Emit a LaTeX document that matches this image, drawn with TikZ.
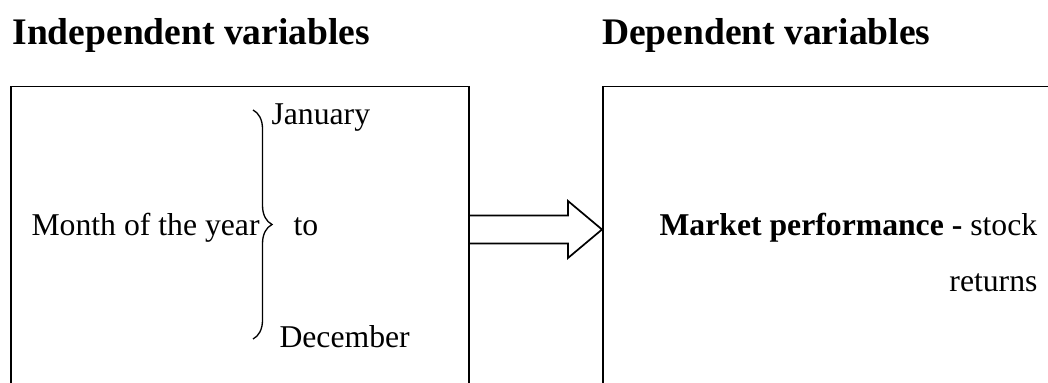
\documentclass[tikz,border=0pt]{standalone}
\usepackage{fontspec}
\setmainfont{Liberation Serif}
\usetikzlibrary{decorations.pathreplacing,calc}
\begin{document}
\begin{tikzpicture}[x=0.3785pt,y=-0.3785pt,
  txt/.style={inner sep=0pt,anchor=base west,font=\fontsize{12}{14}\selectfont},
  ttl/.style={inner sep=0pt,anchor=base west,font=\fontsize{14.2}{17}\selectfont\bfseries},
  varbox/.style={draw,line width=0.65pt,inner sep=0pt,anchor=north west,minimum height=130pt},
  fatarrow/.style={draw,line width=0.65pt,line join=miter}]
\clip (0,0) rectangle (1048,383);
% titles
\node[ttl] (title1) at (12,44.3) {Independent variables};
\node[ttl] (title2) at (601.5,44.3) {Dependent variables};
% boxes
\node[varbox,minimum width=173.35pt] (leftbox) at (10,85.7) {};
\node[varbox,minimum width=180pt] (rightbox) at (602,85.7) {};
% left box content
\node[txt] (month) at (31,235.5) {Month of the year};
\node[txt] (jan) at (271,125) {January};
\node[txt] (to) at (293,235.5) {to};
\node[txt] (dec) at (279,347) {December};
\coordinate (btop) at (253,110);
\coordinate (bbot) at (253,339);
\draw[line width=0.5pt,decorate,decoration={brace,amplitude=7.2pt}] (btop) -- (bbot);
% right box content
\node[txt] (market) at (659,235.5) {\textbf{Market performance -} stock};
\node[txt,anchor=base east] (returns) at (1038,292) {returns};
% block arrow from left box to right box
\coordinate (a0) at (leftbox.east |- 0,229.5);
\coordinate (a1) at (rightbox.west |- 0,229.5);
\draw[fatarrow] ($(a0)+(0,-14)$) -- ($(a1)+(-34,-14)$) -- ($(a1)+(-34,-28.5)$) -- (a1)
  -- ($(a1)+(-34,28.5)$) -- ($(a1)+(-34,14)$) -- ($(a0)+(0,14)$);
\end{tikzpicture}
\end{document}
